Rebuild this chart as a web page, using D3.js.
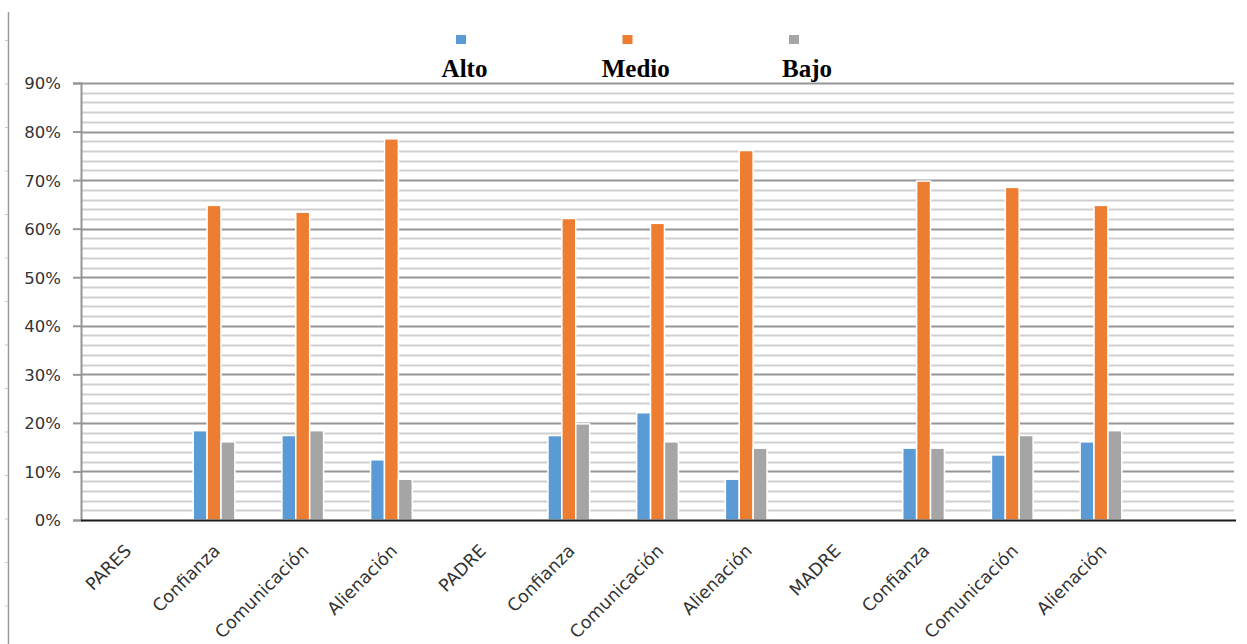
<!DOCTYPE html>
<html>
<head>
<meta charset="utf-8">
<script src="https://cdn.jsdelivr.net/npm/d3@7"></script>
<style>
  html, body { margin: 0; padding: 0; background: #fff; }
  svg { display: block; }
</style>
</head>
<body>
<svg id="chart" width="1247" height="644"></svg>
<script>
// ---- data ----
const categories = ["PARES", "Confianza", "Comunicación", "Alienación",
                    "PADRE", "Confianza", "Comunicación", "Alienación",
                    "MADRE", "Confianza", "Comunicación", "Alienación", ""];
const seriesNames = ["Alto", "Medio", "Bajo"];
const alto  = [null, 0.184, 0.174, 0.124, null, 0.174, 0.221, 0.084, null, 0.148, 0.134, 0.161, null];
const medio = [null, 0.648, 0.634, 0.785, null, 0.621, 0.611, 0.761, null, 0.698, 0.685, 0.648, null];
const bajo  = [null, 0.161, 0.184, 0.084, null, 0.198, 0.161, 0.148, null, 0.148, 0.174, 0.184, null];
const yTicks = [0, 0.1, 0.2, 0.3, 0.4, 0.5, 0.6, 0.7, 0.8, 0.9];

const seriesValues = [alto, medio, bajo];
const colors = ["#5B9BD5", "#ED7D31", "#A5A5A5"];

// ---- layout ----
const svg = d3.select("#chart");
const mLeft = 81, mRight = 1234, mTop = 83, mBottom = 520;

const x0 = d3.scaleBand().domain(d3.range(categories.length))
  .range([mLeft, mRight]).paddingInner(0.53).paddingOuter(0.265);
const x1 = d3.scaleBand().domain(d3.range(seriesNames.length))
  .range([0, x0.bandwidth()]).padding(0);
const y = d3.scaleLinear().domain([0, 0.9]).range([mBottom, mTop]);

// page frame line on far left (ruler-like)
svg.append("line").attr("x1", 8.5).attr("x2", 8.5).attr("y1", 12).attr("y2", 644)
  .attr("stroke", "#9a9a9a").attr("stroke-width", 1.5);
svg.append("g").selectAll("line").data(d3.range(40, 644, 43.5)).join("line")
  .attr("x1", 5).attr("x2", 8).attr("y1", d => d + 0.5).attr("y2", d => d + 0.5)
  .attr("stroke", "#c8c8c8").attr("stroke-width", 1);

// minor gridlines every 2%
const minor = d3.range(0.02, 0.9001, 0.02).filter(v => Math.abs(Math.round(v * 10) - v * 10) > 1e-6);
svg.append("g").selectAll("line").data(minor).join("line")
  .attr("x1", mLeft).attr("x2", mRight)
  .attr("y1", d => Math.round(y(d)) + 0.5).attr("y2", d => Math.round(y(d)) + 0.5)
  .attr("stroke", "#cfcfcf").attr("stroke-width", 2);

// major gridlines
svg.append("g").selectAll("line").data(yTicks.filter(v => v > 0)).join("line")
  .attr("x1", mLeft).attr("x2", mRight)
  .attr("y1", d => Math.round(y(d)) + 0.5).attr("y2", d => Math.round(y(d)) + 0.5)
  .attr("stroke", "#969696").attr("stroke-width", 2);

// y axis
const yAxis = d3.axisLeft(y).tickValues(yTicks).tickFormat(d3.format(".0%"))
  .tickSize(8).tickPadding(12);
const gy = svg.append("g").attr("transform", `translate(${mLeft},0)`).call(yAxis);
gy.select(".domain").attr("stroke", "#969696").attr("stroke-width", 2);
gy.selectAll(".tick line").attr("stroke", "#969696").attr("stroke-width", 2);
gy.selectAll(".tick text").attr("font-family", "DejaVu Sans, Verdana, sans-serif")
  .attr("font-size", 16.5).attr("fill", "#333").attr("dy", "0.36em");

// bars
const groups = svg.append("g").selectAll("g").data(categories.map((c, i) => i)).join("g")
  .attr("transform", i => `translate(${x0(i)},0)`);
groups.selectAll("rect")
  .data(i => seriesValues.map((s, k) => ({k, v: s[i]})).filter(d => d.v != null))
  .join("rect")
  .attr("x", d => x1(d.k))
  .attr("width", x1.bandwidth())
  .attr("y", d => y(d.v))
  .attr("height", d => y(0) - y(d.v))
  .attr("fill", d => colors[d.k])
  .attr("stroke", "#fff").attr("stroke-width", 1.5);

// x axis baseline and labels
const xAxis = d3.axisBottom(x0).tickFormat(i => categories[i]).tickSize(0).tickPadding(0);
const gx = svg.append("g").attr("transform", `translate(0,${mBottom})`).call(xAxis);
gx.select(".domain").attr("stroke", "#1a1a1a").attr("stroke-width", 2)
  .attr("d", `M${mLeft},0.5H${mRight + 2}`);
gx.selectAll(".tick text")
  .attr("font-family", "DejaVu Sans, Verdana, sans-serif")
  .attr("font-size", 17.5).attr("fill", "#333")
  .attr("text-anchor", "end")
  .attr("transform", "translate(7,32) rotate(-45)")
  .attr("dy", "0").attr("y", 0);

// legend
const lx = d3.scalePoint().domain(seriesNames).range([461, 794]);
const lt = d3.scalePoint().domain(seriesNames).range([464.5, 807]);
const leg = svg.append("g");
leg.selectAll("rect").data(seriesNames).join("rect")
  .attr("x", d => lx(d) - 5).attr("y", 35).attr("width", 10).attr("height", 9)
  .attr("fill", (d, i) => colors[i]);
leg.selectAll("text").data(seriesNames).join("text")
  .attr("x", d => lt(d)).attr("y", 77)
  .attr("text-anchor", "middle")
  .attr("font-family", "Liberation Serif, Times New Roman, serif")
  .attr("font-weight", "bold").attr("font-size", 25).attr("fill", "#000")
  .text(d => d);
</script>
</body>
</html>
